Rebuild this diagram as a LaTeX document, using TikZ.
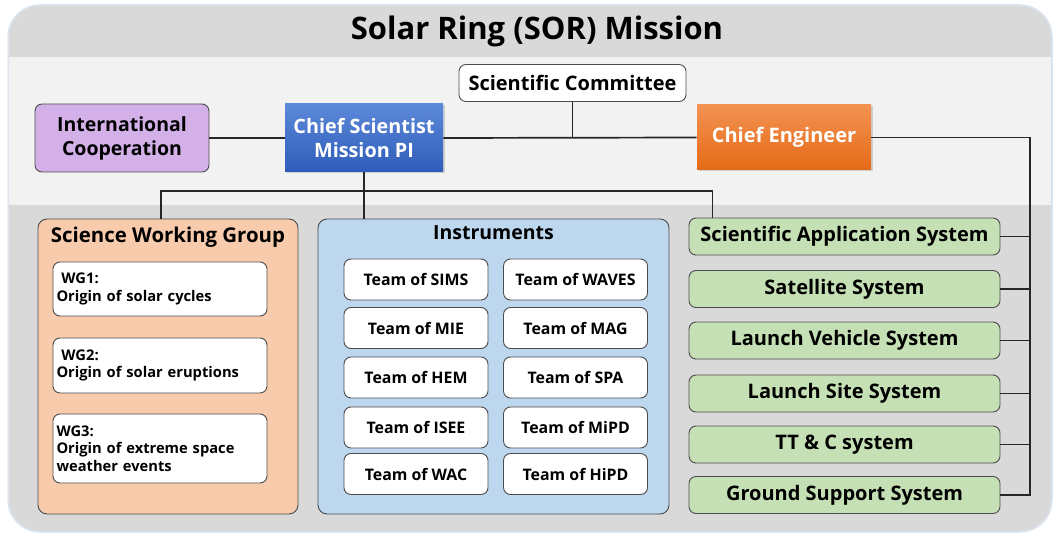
\documentclass[tikz,border=0pt]{standalone}
\usepackage{fontspec}
\setmainfont{Open Sans}
\usetikzlibrary{positioning,shadows}

\definecolor{framegray}{HTML}{D9D9D9}
\definecolor{bandgray}{HTML}{F2F2F2}
\definecolor{edgeblue}{HTML}{DCE6F1}
\definecolor{coopviolet}{HTML}{D3B1E8}
\definecolor{swgorange}{HTML}{F8CBAD}
\definecolor{instblue}{HTML}{BDD7EE}
\definecolor{sysgreen}{HTML}{C5E0B4}
\definecolor{linkgray}{HTML}{262626}
\definecolor{pitop}{RGB}{92,137,217}
\definecolor{pibot}{RGB}{46,92,185}
\definecolor{engtop}{RGB}{243,146,82}
\definecolor{engbot}{RGB}{228,106,22}

\tikzset{
  box/.style={draw=black!70, line width=0.9pt, rounded corners=7pt,
    inner sep=2pt, font=\bfseries, align=center},
  panel/.style={box, rounded corners=9pt},
  head/.style={box, rounded corners=0pt, draw=none, text=white,
    drop shadow={opacity=0.3, shadow xshift=1.5pt, shadow yshift=-1.5pt}},
  team/.style={box, fill=white, minimum width=144pt, minimum height=41pt,
    font=\fontsize{15.9}{17}\bfseries},
  wg/.style={box, fill=white, minimum width=214pt, text width=207pt,
    align=left, font=\fontsize{14.7}{17.5}\bfseries},
  sys/.style={box, fill=sysgreen, minimum width=311pt, minimum height=37pt,
    font=\fontsize{20}{22}\bfseries},
  link/.style={draw=linkgray, line width=1.7pt}
}

\begin{document}
\begin{tikzpicture}[x=1pt,y=-1pt]
  \useasboundingbox (0,0) rectangle (1056,534);

  % frame and bands
  \fill[framegray, draw=edgeblue, line width=1.5pt, rounded corners=32pt]
    (8,5) rectangle (1052,532);
  \fill[bandgray] (9,57) rectangle (1051,205);
  \node (title) at (537,31) {\fontsize{31}{34}\bfseries Solar Ring (SOR) Mission};

  % management level
  \node (comm) [box, fill=white, minimum width=227pt, minimum height=37pt,
    font=\fontsize{20}{22}\bfseries] at (572.5,83) {Scientific Committee};
  \node (coop) [box, fill=coopviolet, minimum width=174pt, minimum height=68pt,
    font=\fontsize{19.5}{24}\bfseries] at (122,138) {International\\Cooperation};
  \node (chief) [head, top color=pitop, bottom color=pibot,
    minimum width=158pt, minimum height=68pt,
    font=\fontsize{19.8}{24}\bfseries] at (364,138) {Chief Scientist\\Mission PI};
  \node (eng) [head, top color=engtop, bottom color=engbot,
    minimum width=174pt, minimum height=65pt,
    font=\fontsize{20}{22}\bfseries] at (784,137.5) {Chief Engineer};

  % science working group
  \node (swg) [panel, fill=swgorange, minimum width=260pt, minimum height=295pt] at (168,366.5) {};
  \node (swgt) [font=\fontsize{20.4}{22}\bfseries, below=5pt of swg.north] {Science Working Group};
  \node (wg1) [wg, minimum height=54pt] at (160,289) {\ WG1:\\Origin of solar cycles};
  \node (wg2) [wg, minimum height=55pt] at (160,365.5) {\ WG2:\\Origin of solar eruptions};
  \node (wg3) [wg, minimum height=69pt] at (160,448.5) {WG3:\\Origin of extreme space\\weather events};

  % instruments
  \node (inst) [panel, fill=instblue, minimum width=351pt, minimum height=295pt] at (493.5,366.5) {};
  \node (instt) [font=\fontsize{19.5}{22}\bfseries, below=3pt of inst.north] {Instruments};
  \node (sims)  [team] at (416,279.5) {Team of SIMS};
  \node (mie)   [team] at (416,328)   {Team of MIE};
  \node (hem)   [team] at (416,377.5) {Team of HEM};
  \node (isee)  [team] at (416,427.5) {Team of ISEE};
  \node (wac)   [team] at (416,474)   {Team of WAC};
  \node (waves) [team] at (575.5,279.5) {Team of WAVES};
  \node (mag)   [team] at (575.5,328)   {Team of MAG};
  \node (spa)   [team] at (575.5,377.5) {Team of SPA};
  \node (mipd)  [team] at (575.5,427.5) {Team of MiPD};
  \node (hipd)  [team] at (575.5,474)   {Team of HiPD};

  % engineering systems
  \node (sas)    [sys] at (844.5,236.5) {Scientific Application System};
  \node (sat)    [sys] at (844.5,289)   {Satellite System};
  \node (lvs)    [sys] at (844.5,340.5) {Launch Vehicle System};
  \node (lss)    [sys] at (844.5,393.5) {Launch Site System};
  \node (ttc)    [sys] at (844.5,444.5) {TT \& C system};
  \node (ground) [sys] at (844.5,495)   {Ground Support System};

  % links
  \coordinate (fork) at (363,191);
  \coordinate (bus) at (1030,138);
  \path[link] (coop.east) -- (chief.west);
  \path[link] (chief.east) -- (eng.west);
  \path[link] (comm.south) -- (comm.south |- chief.east);
  \path[link] (chief.south) -- (chief.south |- inst.north);
  \path[link] ([xshift=-7pt]swg.north) |- (fork) -| ([xshift=24pt]sas.north west);
  \path[link] (eng.east) -| (bus |- ground.east) -- (ground.east);
  \foreach \s in {sas,sat,lvs,lss,ttc}
    \path[link] (\s.east) -- (bus |- \s.east);
\end{tikzpicture}
\end{document}
